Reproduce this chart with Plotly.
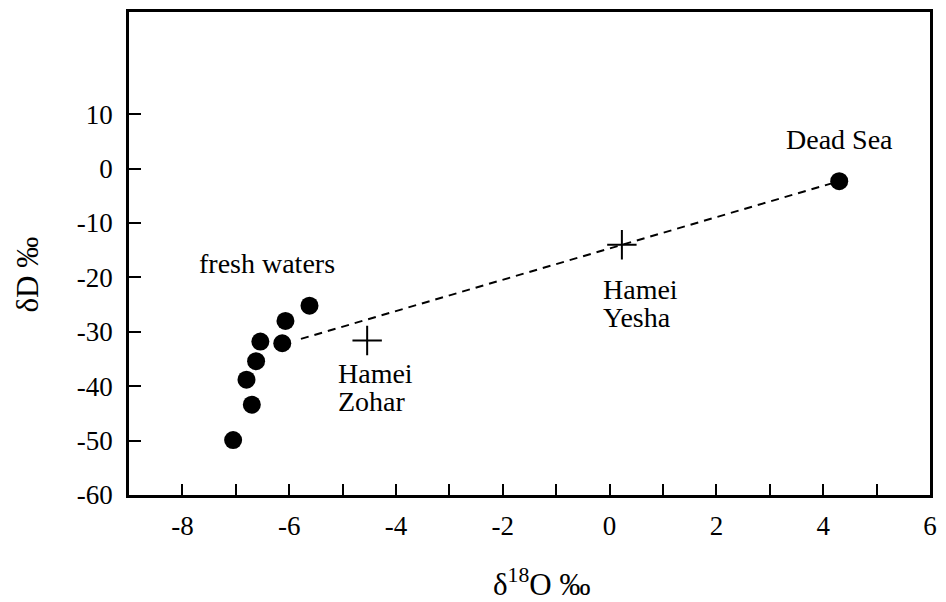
import plotly.graph_objects as go

# Data
fresh_x = [-5.62, -6.07, -6.54, -6.13, -6.62, -6.80, -6.70, -7.05]
fresh_y = [-25.2, -28.0, -31.8, -32.1, -35.4, -38.8, -43.4, -49.9]

dead_sea_x = [4.3]
dead_sea_y = [-2.3]

springs_x = [-4.54, 0.23]
springs_y = [-31.6, -14.0]

mix_x = [-5.78, 4.3]
mix_y = [-31.3, -2.3]

x_tickvals = [-8, -6, -4, -2, 0, 2, 4, 6]
x_ticktext = ["-8", "-6", "-4", "-2", "0", "2", "4", "6"]
x_minorvals = [-7, -5, -3, -1, 1, 3, 5]
y_tickvals = [-60, -50, -40, -30, -20, -10, 0, 10]
y_ticktext = ["-60", "-50", "-40", "-30", "-20", "-10", "0", "10"]

FONT = "Liberation Serif"

fig = go.Figure()
fig.add_trace(go.Scatter(x=mix_x, y=mix_y, mode="lines",
                         line=dict(color="black", width=2, dash="8px,6px"),
                         showlegend=False, hoverinfo="skip"))
fig.add_trace(go.Scatter(x=fresh_x, y=fresh_y, mode="markers",
                         marker=dict(color="black", size=18), showlegend=False))
fig.add_trace(go.Scatter(x=dead_sea_x, y=dead_sea_y, mode="markers",
                         marker=dict(color="black", size=18), showlegend=False))
fig.add_trace(go.Scatter(x=springs_x, y=springs_y, mode="markers",
                         marker=dict(symbol="cross-thin", size=21,
                                     line=dict(color="black", width=2)),
                         showlegend=False))

ann = dict(font=dict(family=FONT, size=28, color="black"), showarrow=False)
fig.add_annotation(x=-6.42, y=-17.4, text="fresh waters", xanchor="center", yanchor="middle", **ann)
fig.add_annotation(x=4.3, y=5.3, text="Dead Sea", xanchor="center", yanchor="middle", **ann)
fig.add_annotation(x=-0.17, y=-22.3, text="Hamei", xanchor="left", yanchor="middle", **ann)
fig.add_annotation(x=-0.17, y=-27.4, text="Yesha", xanchor="left", yanchor="middle", **ann)
fig.add_annotation(x=-5.12, y=-37.6, text="Hamei", xanchor="left", yanchor="middle", **ann)
fig.add_annotation(x=-5.12, y=-42.9, text="Zohar", xanchor="left", yanchor="middle", **ann)

# axis titles
fig.add_annotation(xref="paper", yref="paper", x=-0.127, y=0.457, text="δD ‰",
                   textangle=-90, xanchor="center", yanchor="middle",
                   font=dict(family=FONT, size=31, color="black"), showarrow=False)
fig.add_annotation(xref="paper", yref="paper", x=0.515, y=-0.181,
                   text="δ<sup>18</sup>O ‰", xanchor="center", yanchor="middle",
                   font=dict(family=FONT, size=31, color="black"), showarrow=False)

fig.update_xaxes(range=[-9, 6], tickvals=x_tickvals, ticktext=x_ticktext,
                 ticks="inside", ticklen=11, tickwidth=2, tickcolor="black",
                 minor=dict(tickvals=x_minorvals, ticks="inside", ticklen=11,
                            tickwidth=2, tickcolor="black", showgrid=False),
                 showline=True, linewidth=2.5, linecolor="black", mirror=True,
                 showgrid=False, zeroline=False, ticklabelstandoff=5,
                 tickfont=dict(family=FONT, size=27, color="black"))
fig.update_yaxes(range=[-60, 28.8], tickvals=y_tickvals, ticktext=y_ticktext,
                 ticks="inside", ticklen=12, tickwidth=2, tickcolor="black",
                 showline=True, linewidth=2.5, linecolor="black", mirror=True,
                 showgrid=False, zeroline=False, ticklabelstandoff=8,
                 tickfont=dict(family=FONT, size=27, color="black"))

fig.update_layout(width=946, height=602,
                  margin=dict(l=129, r=11, t=9, b=107),
                  paper_bgcolor="white", plot_bgcolor="white")

fig.write_html("out.html")
